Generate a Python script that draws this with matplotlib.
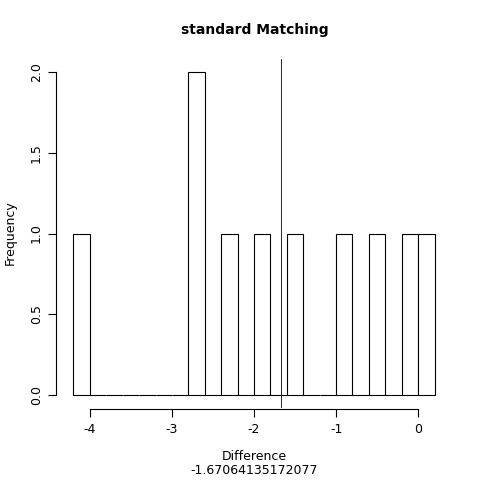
import numpy as np
import matplotlib
matplotlib.use("Agg")
import matplotlib.pyplot as plt

# histogram of differences, bin width 0.2
edges = np.round(np.arange(-4.2, 0.2001, 0.2), 2)
counts = np.zeros(len(edges) - 1)
filled = {-4.2: 1, -2.8: 2, -2.4: 1, -2.0: 1, -1.6: 1, -1.0: 1, -0.6: 1, -0.2: 1, 0.0: 1}
for left, c in filled.items():
    counts[np.argmin(np.abs(edges[:-1] - left))] = c
mean_diff = -1.67064135172077

fig = plt.figure(figsize=(4.8, 4.8), dpi=100)
ax = fig.add_axes([59/480, 72/480, 390/480, 349/480])
ax.bar(edges[:-1], counts, width=0.2, align="edge", facecolor="white",
       edgecolor="black", linewidth=0.8)
ax.axvline(mean_diff, color="black", linewidth=0.6)
ax.set_xlim(-4.376, 0.376)
ax.set_ylim(-0.08, 2.08)

for s in ["top", "right"]:
    ax.spines[s].set_visible(False)
ax.spines["bottom"].set_bounds(-4, 0)
ax.spines["left"].set_bounds(0, 2)
ax.spines["bottom"].set_position(("outward", 1))
ax.spines["left"].set_position(("outward", 2))
ax.set_xticks([-4, -3, -2, -1, 0])
ax.set_xticklabels(["-4", "-3", "-2", "-1", "0"])
ax.set_yticks([0, 0.5, 1.0, 1.5, 2.0])
ax.set_yticklabels(["0.0", "0.5", "1.0", "1.5", "2.0"], rotation=90, va="center")
ax.tick_params(labelsize=9, length=6)

fig.text(0.53, 1 - 30/480, "standard Matching", ha="center", va="center",
         fontsize=10, fontweight="bold")
fig.text(0.53, 1 - 456/480, "Difference", ha="center", va="center", fontsize=9)
fig.text(0.53, 1 - 470/480, "-1.67064135172077", ha="center", va="center", fontsize=9)
fig.text(10/480, 1 - 233/480, "Frequency", rotation=90, ha="center", va="center", fontsize=9)

fig.savefig("out.png", dpi=100)
